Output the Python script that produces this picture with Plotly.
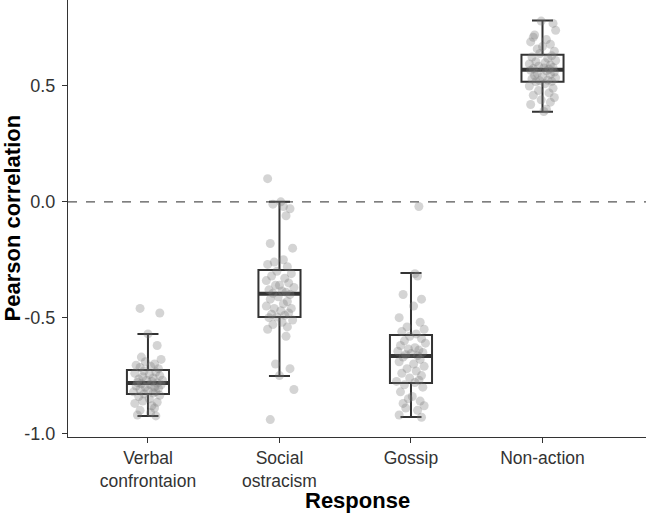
import plotly.graph_objects as go

categories = ["Verbal<br>confrontaion", "Social<br>ostracism", "Gossip", "Non-action"]
positions = [1, 2, 3, 4]

# Box statistics
q1 = [-0.829, -0.497, -0.782, 0.518]
median = [-0.782, -0.397, -0.665, 0.570]
q3 = [-0.726, -0.294, -0.575, 0.635]
lower_whisker = [-0.924, -0.752, -0.929, 0.389]
upper_whisker = [-0.570, 0.000, -0.307, 0.782]

# Individual correlations per group
verbal = [-0.46, -0.48, -0.57, -0.62, -0.67, -0.68, -0.69, -0.70, -0.705, -0.71, -0.715, -0.72,
          -0.73, -0.735, -0.74, -0.745, -0.75, -0.755, -0.76, -0.765, -0.77, -0.77, -0.775, -0.78, -0.782,
          -0.785, -0.79, -0.79, -0.795, -0.80, -0.80, -0.805, -0.81, -0.815, -0.82, -0.82, -0.825, -0.829,
          -0.835, -0.84, -0.85, -0.86, -0.865, -0.87, -0.88, -0.89, -0.90, -0.91, -0.92, -0.924]
social = [0.10, 0.0, -0.01, -0.02, -0.03, -0.06, -0.18, -0.20, -0.25, -0.26, -0.27, -0.28,
          -0.30, -0.31, -0.32, -0.33, -0.34, -0.35, -0.36, -0.36, -0.37, -0.38, -0.385, -0.39, -0.395,
          -0.40, -0.41, -0.42, -0.43, -0.44, -0.45, -0.46, -0.46, -0.47, -0.48, -0.485, -0.49, -0.497,
          -0.50, -0.51, -0.52, -0.53, -0.54, -0.55, -0.58, -0.70, -0.72, -0.75, -0.81, -0.94]
gossip = [-0.02, -0.31, -0.32, -0.40, -0.42, -0.45, -0.50, -0.52, -0.54, -0.55, -0.56, -0.57,
          -0.58, -0.59, -0.60, -0.61, -0.62, -0.63, -0.635, -0.64, -0.645, -0.65, -0.655, -0.66, -0.664,
          -0.67, -0.68, -0.69, -0.70, -0.71, -0.72, -0.73, -0.74, -0.75, -0.76, -0.77, -0.775, -0.78,
          -0.79, -0.80, -0.82, -0.84, -0.85, -0.86, -0.87, -0.88, -0.89, -0.90, -0.92, -0.93]
nonaction = [0.78, 0.77, 0.74, 0.72, 0.71, 0.70, 0.69, 0.68, 0.67, 0.66, 0.65, 0.64,
             0.63, 0.625, 0.62, 0.61, 0.605, 0.60, 0.595, 0.59, 0.585, 0.58, 0.578, 0.575, 0.572,
             0.568, 0.565, 0.56, 0.555, 0.55, 0.545, 0.54, 0.535, 0.53, 0.525, 0.522, 0.52, 0.518,
             0.51, 0.50, 0.49, 0.48, 0.47, 0.46, 0.45, 0.44, 0.43, 0.42, 0.40, 0.39]

# Horizontal jitter per point (category units)
jit_verbal = [-0.06, 0.09, 0.00, 0.07, -0.05, 0.10, -0.02, 0.05, -0.09, 0.02, -0.06, 0.08,
              -0.03, 0.06, -0.10, 0.01, 0.09, -0.04, 0.04, -0.07, 0.11, -0.01, 0.03, -0.08, 0.07,
              -0.05, 0.02, 0.10, -0.09, 0.05, -0.02, 0.08, -0.06, 0.00, 0.06, -0.11, 0.04, -0.03,
              0.09, -0.07, 0.01, -0.04, 0.07, -0.10, 0.03, 0.05, -0.06, 0.02, -0.08, 0.06]
jit_social = [-0.09, 0.01, -0.05, 0.03, 0.08, 0.05, -0.07, 0.10, 0.03, -0.04, -0.09, 0.06,
              -0.02, 0.09, -0.06, 0.04, -0.10, 0.07, 0.00, -0.03, 0.11, -0.08, 0.02, 0.05, -0.05,
              0.08, -0.01, -0.07, 0.06, 0.03, -0.10, 0.09, -0.04, 0.01, 0.07, -0.06, 0.04, -0.02,
              -0.08, 0.10, 0.02, -0.05, 0.06, -0.09, 0.05, -0.03, 0.08, 0.00, 0.11, -0.07]
jit_gossip = [0.06, 0.03, 0.05, -0.06, 0.08, 0.02, -0.09, 0.07, -0.03, 0.10, -0.07, 0.04,
              -0.01, 0.08, -0.05, 0.11, -0.08, 0.03, -0.02, 0.06, -0.10, 0.09, 0.00, -0.04, 0.05,
              -0.06, 0.07, -0.09, 0.02, 0.10, -0.03, 0.04, -0.07, 0.08, -0.01, 0.06, -0.11, 0.03,
              -0.05, 0.09, -0.08, 0.01, -0.02, 0.07, -0.06, 0.10, -0.04, 0.05, -0.09, 0.08]
jit_nonaction = [-0.01, 0.08, 0.10, -0.06, -0.07, 0.03, -0.09, 0.06, 0.00, -0.04, 0.09, -0.02,
                 0.07, -0.08, 0.04, 0.10, -0.05, 0.02, -0.10, 0.06, -0.03, 0.08, 0.01, -0.07, 0.05,
                 -0.09, 0.03, 0.09, -0.04, 0.06, -0.06, 0.00, 0.10, -0.08, 0.04, -0.02, 0.07, -0.05,
                 0.02, -0.10, 0.08, -0.03, 0.05, -0.07, 0.09, -0.01, 0.06, -0.09, 0.03, 0.01]

groups = [verbal, social, gossip, nonaction]
jitters = [jit_verbal, jit_social, jit_gossip, jit_nonaction]

ytick_vals = [-1.0, -0.5, 0.0, 0.5]
ytick_text = ["-1.0", "-0.5", "0.0", "0.5"]

BOX_W = 0.32
DARK = "#333333"
FONT = "Arial, Liberation Sans, sans-serif"

fig = go.Figure()

fig.add_trace(go.Box(
    x=positions, q1=q1, median=median, q3=q3,
    lowerfence=lower_whisker, upperfence=upper_whisker,
    width=BOX_W, whiskerwidth=0.5, boxpoints=False,
    fillcolor="white", line=dict(color=DARK, width=2),
    showlegend=False, hoverinfo="skip",
))

# thicker median bars
for p, m in zip(positions, median):
    fig.add_trace(go.Scatter(
        x=[p - BOX_W / 2, p + BOX_W / 2], y=[m, m], mode="lines",
        line=dict(color=DARK, width=4), showlegend=False, hoverinfo="skip",
    ))

# jittered points
for p, vals, jit in zip(positions, groups, jitters):
    fig.add_trace(go.Scatter(
        x=[p + j for j in jit], y=vals, mode="markers",
        marker=dict(size=9, color="rgba(120,120,120,0.32)", line=dict(width=0)),
        showlegend=False, hoverinfo="skip",
    ))

fig.add_hline(y=0, line=dict(color="#555555", width=1.3, dash="dash"), layer="below")

fig.add_annotation(
    text="<b>Pearson correlation</b>", xref="paper", yref="paper",
    x=0, y=0.5, xshift=-56, xanchor="center", yanchor="middle",
    textangle=-90, showarrow=False, font=dict(size=22, color="black", family=FONT),
)
fig.add_annotation(
    text="<b>Response</b>", xref="paper", yref="paper",
    x=0.5, y=0, yshift=-63, xanchor="center", yanchor="middle",
    showarrow=False, font=dict(size=22, color="black", family=FONT),
)

fig.update_layout(
    width=646, height=513,
    margin=dict(l=68, r=0, t=0, b=76),
    plot_bgcolor="white", paper_bgcolor="white",
    font=dict(family=FONT, size=18, color=DARK),
    xaxis=dict(
        range=[0.392, 4.787], tickvals=positions, ticktext=categories,
        showline=True, linecolor=DARK, linewidth=1.3, mirror=False,
        ticks="outside", ticklen=5, tickcolor=DARK, tickwidth=1.2,
        showgrid=False, zeroline=False, automargin=False,
        tickfont=dict(size=17.5, color=DARK),
    ),
    yaxis=dict(
        range=[-1.015, 0.871], tickvals=ytick_vals, ticktext=ytick_text,
        showline=True, linecolor=DARK, linewidth=1.3, mirror=False,
        ticks="outside", ticklen=5, tickcolor=DARK, tickwidth=1.2,
        showgrid=False, zeroline=False, automargin=False,
        tickfont=dict(size=18, color=DARK), ticklabelstandoff=3,
    ),
)

fig.write_html(
    "out.html",
    config={"displayModeBar": False},
    post_script="document.body.style.margin='0';document.body.style.overflow='hidden';",
)
